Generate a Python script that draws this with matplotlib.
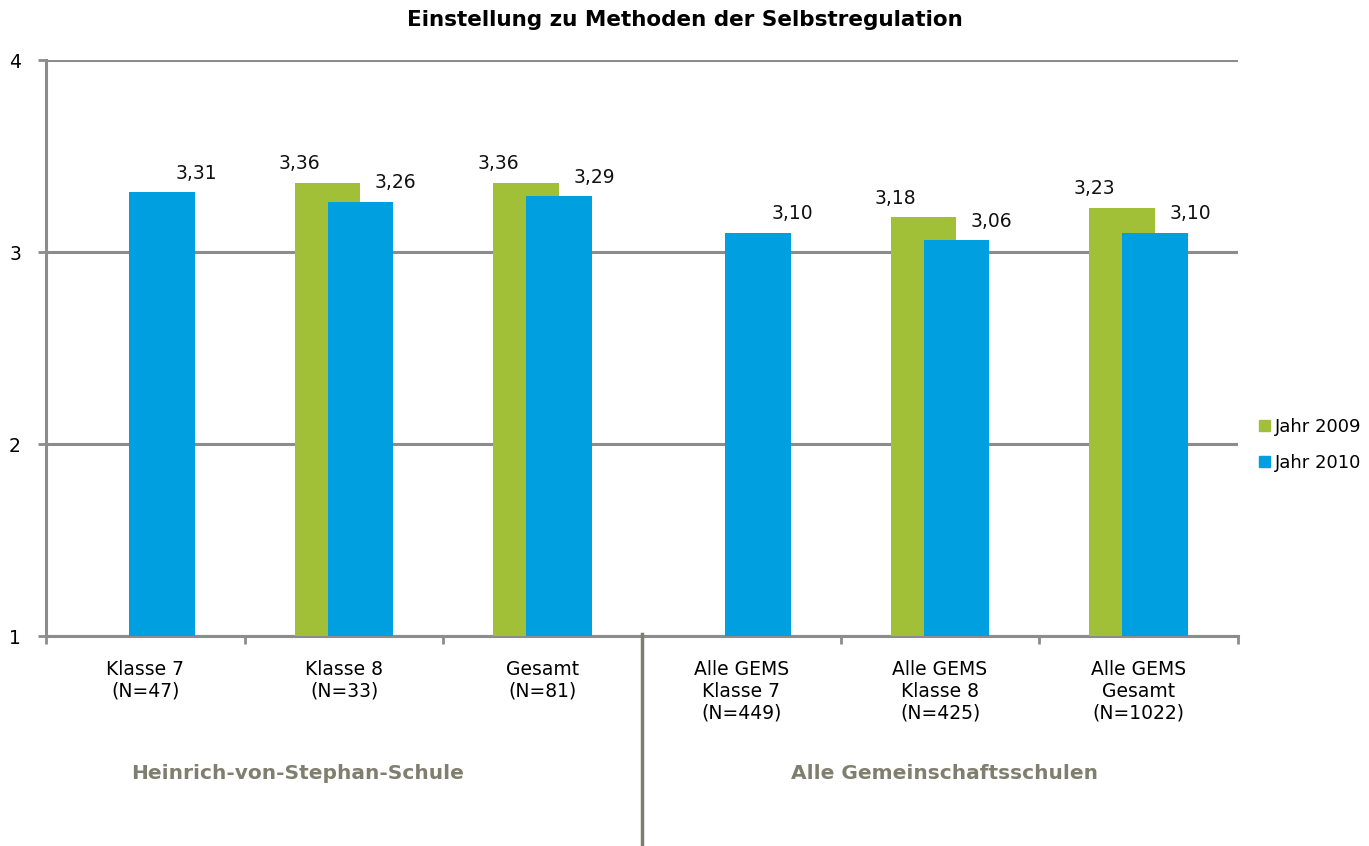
import matplotlib.pyplot as plt
import numpy as np
from matplotlib.lines import Line2D
from matplotlib.patches import Patch

plt.rcParams['font.family'] = ['DejaVu Sans']

kategorien = ["Klasse 7\n(N=47)", "Klasse 8\n(N=33)", "Gesamt\n(N=81)",
              "Alle GEMS\nKlasse 7\n(N=449)", "Alle GEMS\nKlasse 8\n(N=425)",
              "Alle GEMS\nGesamt\n(N=1022)"]
jahr_2009 = [None, 3.36, 3.36, None, 3.18, 3.23]
jahr_2010 = [3.31, 3.26, 3.29, 3.10, 3.06, 3.10]
gruppen = ["Heinrich-von-Stephan-Schule", "Alle Gemeinschaftsschulen"]

gruen = "#A2C037"
blau = "#009FDF"
grau = "#8C8C8C"
oliv = "#7F7F6F"

fig = plt.figure(figsize=(13.69, 8.46), dpi=100)
ax = fig.add_axes([46/1369, 1 - 636/846, (1238-46)/1369, (636-60)/846])

x = np.arange(len(kategorien))
breite = 0.332
versatz = 0.083

for i in x:
    if jahr_2009[i] is not None:
        ax.bar(i - versatz, jahr_2009[i] - 1, bottom=1, width=breite, color=gruen, zorder=3)
        ax.annotate(f"{jahr_2009[i]:.2f}".replace(".", ","), (i - versatz, jahr_2009[i]),
                    xytext=(-20, 7), textcoords="offset points", ha="center", va="bottom",
                    fontsize=13.5, color="#111111")
    ax.bar(i + versatz, jahr_2010[i] - 1, bottom=1, width=breite, color=blau, zorder=4)
    ax.annotate(f"{jahr_2010[i]:.2f}".replace(".", ","), (i + versatz, jahr_2010[i]),
                xytext=(25, 7), textcoords="offset points", ha="center", va="bottom",
                fontsize=13.5, color="#111111")

ax.set_xlim(-0.5, len(kategorien) - 0.5)
ax.set_ylim(1, 4)
ax.set_yticks([1, 2, 3, 4])
ax.set_yticklabels(["1", "2", "3", "4"], fontsize=13.5)
ax.yaxis.grid(True, color=grau, linewidth=2.2, zorder=0)
ax.set_axisbelow(True)

ax.set_xticks(np.arange(-0.5, len(kategorien)), minor=False)
ax.set_xticklabels([])
ax.set_xticks(x, minor=True)
ax.set_xticklabels(kategorien, minor=True, fontsize=13.5, linespacing=1.2)
ax.tick_params(axis="x", which="minor", length=0, pad=17)
ax.tick_params(axis="x", which="major", length=6, width=2, color=grau)
ax.tick_params(axis="y", length=6, width=2, color=grau, pad=12)

for s in ["top", "right"]:
    ax.spines[s].set_visible(False)
for s in ["left", "bottom"]:
    ax.spines[s].set_color(grau)
    ax.spines[s].set_linewidth(2.2)

# Trennlinie zwischen den Gruppen
fig.add_artist(Line2D([642/1369, 642/1369], [1 - 634/846, 0], color=oliv, linewidth=2.5))

fig.text(298/1369, 1 - 773/846, gruppen[0], ha="center", va="center",
         fontsize=14.5, fontweight="bold", color=oliv)
fig.text(944/1369, 1 - 773/846, gruppen[1], ha="center", va="center",
         fontsize=14.5, fontweight="bold", color=oliv)

fig.text(685/1369, 1 - 20/846, "Einstellung zu Methoden der Selbstregulation",
         ha="center", va="center", fontsize=15.5, fontweight="bold")

# Legende
handles = [Patch(color=gruen, label="Jahr 2009"), Patch(color=blau, label="Jahr 2010")]
fig.legend(handles=handles, loc="center left", bbox_to_anchor=(1250/1369, 1 - 445/846),
           frameon=False, fontsize=13, handlelength=0.6, handleheight=0.6,
           handletextpad=0.3, labelspacing=1.0, borderpad=0)

fig.savefig("out.png", dpi=100)
